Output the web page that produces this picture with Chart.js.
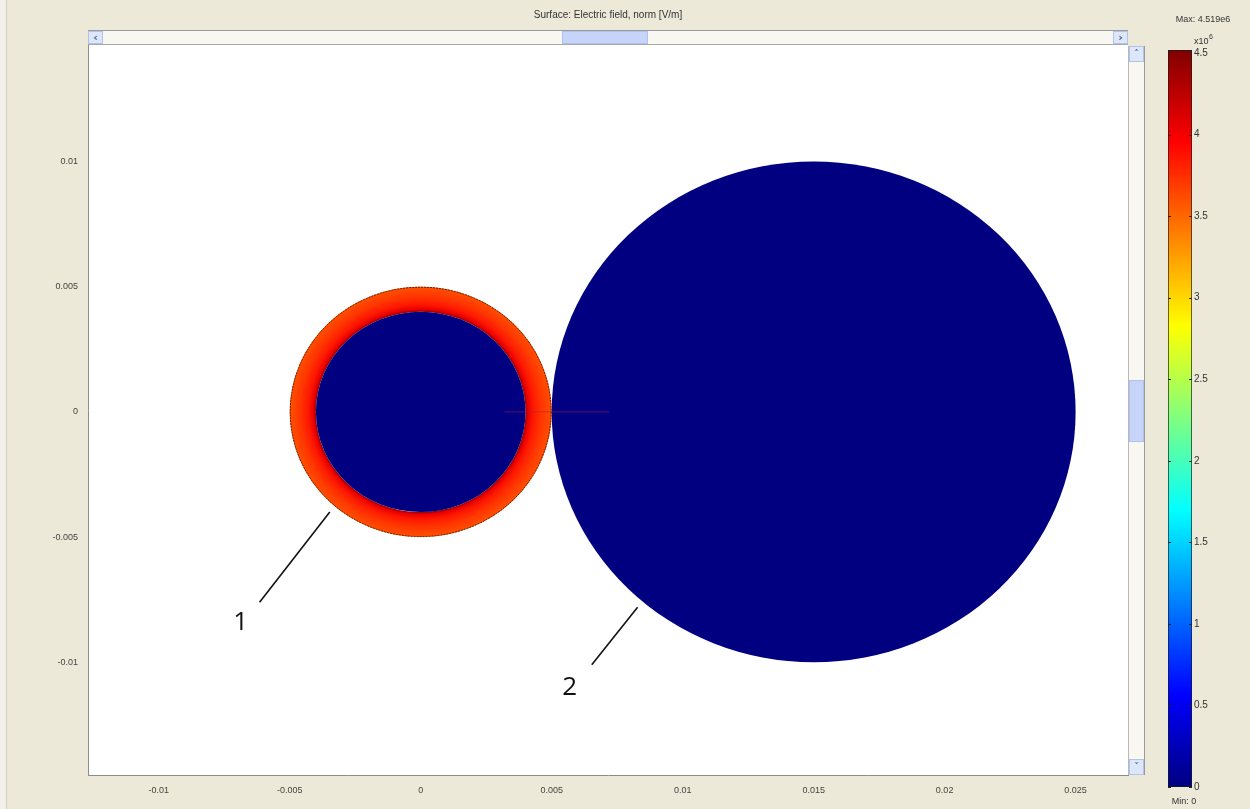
<!DOCTYPE html>
<html>
<head>
<meta charset="utf-8">
<title>Surface: Electric field, norm</title>
<script src="https://cdn.jsdelivr.net/npm/chart.js@4.4.1/dist/chart.umd.min.js"></script>
<style>
  html, body { margin: 0; padding: 0; background: #ece9d8; }
  #wrap { position: relative; width: 1250px; height: 809px; overflow: hidden; background: #ece9d8; }
  #band { position: absolute; left: 0; top: 0; width: 6px; height: 809px; background: #f2f0e8; border-right: 1px solid #d4d0c0; }
  #main { position: absolute; left: 0; top: 0; }
  #cbar { position: absolute; left: 1150px; top: 0; }
  .btn { position: absolute; background: #dde7fb; border: 1px solid #b3c3e6; box-sizing: border-box;
         color: #4a5f8c; font: bold 11px "DejaVu Sans", sans-serif; text-align: center; line-height: 12px; }
  #hscroll { position: absolute; left: 88px; top: 30px; width: 1040px; height: 15px; background: #f8f7f2;
             border-top: 1px solid #9a9a9a; border-bottom: 1px solid #a8a8a8; box-sizing: border-box; }
  #vscroll { position: absolute; left: 1128px; top: 46px; width: 17px; height: 729px; background: #f8f7f2;
             border-left: 1px solid #b8b8b8; border-right: 1px solid #9a9a9a; box-sizing: border-box; }
  .thumb { position: absolute; background: #c5d4f8; border: 1px solid #b0c2ec; box-sizing: border-box; }
</style>
</head>
<body>
<div id="wrap">
  <div id="band"></div>
  <canvas id="main" width="1150" height="809"></canvas>
  <canvas id="cbar" width="100" height="809"></canvas>
  <div id="hscroll">
    <div class="btn" style="left:0;top:0;width:15px;height:13px;">&#8249;</div>
    <div class="thumb" style="left:474px;top:0;width:86px;height:13px;"></div>
    <div class="btn" style="right:0;top:0;width:15px;height:13px;">&#8250;</div>
  </div>
  <div id="vscroll">
    <div class="btn" style="left:0;top:0;width:15px;height:16px;font-size:9px;">&#708;</div>
    <div class="thumb" style="left:0;top:334px;width:15px;height:62px;"></div>
    <div class="btn" style="left:0;bottom:0;width:15px;height:16px;font-size:9px;">&#709;</div>
  </div>
</div>
<script>
// axes
const xRange = [-0.0127, 0.0270];
const yRange = [-0.0145, 0.01465];
const xTicks = [-0.01, -0.005, 0, 0.005, 0.01, 0.015, 0.02, 0.025];
const yTicks = [-0.01, -0.005, 0, 0.005, 0.01];

// domains (m): 0 = shell of sphere 1, 1 = core of sphere 1, 2 = sphere 2
const domainX = [0, 0, 0.015];
const domainY = [0, 0, 0];
const domainRin = [0.004, 0, 0];
const domainRout = [0.005, 0.004, 0.01];
const domainField = [null, 0, 0];           // uniform field norm (x10^6 V/m), null = profile

// field norm across the shell (x10^6 V/m)
const shellR = [0.004, 0.0041, 0.0043, 0.0046, 0.005];
const shellE = [4.4, 4.05, 3.85, 3.72, 3.6];

// thin line through the gap
const probeX = [0.0032, 0.0072];
const probeY = [0, 0];

// callouts
const calloutText = ['1', '2'];
const calloutX0 = [-0.00615, 0.00653];
const calloutY0 = [-0.0076, -0.0101];
const calloutX1 = [-0.00347, 0.00828];
const calloutY1 = [-0.0040, -0.0078];
const calloutTx = [-0.00687, 0.00569];
const calloutTy = [-0.0084, -0.0110];

// colour bar
const cbMin = 0;
const cbMax = 4.519;
const cbTicks = [0, 0.5, 1, 1.5, 2, 2.5, 3, 3.5, 4, 4.5];

// jet colormap
const jetPos = [0, 0.125, 0.375, 0.625, 0.875, 1];
const jetRgb = [[0, 0, 128], [0, 0, 255], [0, 255, 255], [255, 255, 0], [255, 0, 0], [128, 0, 0]];
function jet(t) {
  t = Math.max(0, Math.min(1, t));
  for (let i = 1; i < jetPos.length; i++) {
    if (t <= jetPos[i]) {
      const f = (t - jetPos[i - 1]) / (jetPos[i] - jetPos[i - 1]);
      const a = jetRgb[i - 1], b = jetRgb[i];
      return `rgb(${Math.round(a[0] + (b[0] - a[0]) * f)},${Math.round(a[1] + (b[1] - a[1]) * f)},${Math.round(a[2] + (b[2] - a[2]) * f)})`;
    }
  }
  return 'rgb(128,0,0)';
}
const norm = v => (v - cbMin) / (cbMax - cbMin);

function fmt(v) {
  if (Math.abs(v) < 1e-12) return '0';
  return String(parseFloat(v.toFixed(4)));
}

const domainsPlugin = {
  id: 'domains',
  beforeDatasetsDraw(chart) {
    const { ctx, chartArea: a, scales: { x, y } } = chart;
    ctx.save();
    ctx.beginPath();
    ctx.rect(a.left, a.top, a.right - a.left, a.bottom - a.top);
    ctx.clip();
    for (let i = 0; i < domainX.length; i++) {
      const cx = x.getPixelForValue(domainX[i]);
      const cy = y.getPixelForValue(domainY[i]);
      const rxo = Math.abs(x.getPixelForValue(domainX[i] + domainRout[i]) - cx);
      const ryo = Math.abs(y.getPixelForValue(domainY[i] + domainRout[i]) - cy);
      const rxi = Math.abs(x.getPixelForValue(domainX[i] + domainRin[i]) - cx);
      ctx.save();
      ctx.translate(cx, cy);
      ctx.scale(1, ryo / rxo);
      let fill;
      if (domainField[i] !== null) {
        fill = jet(norm(domainField[i]));
      } else {
        fill = ctx.createRadialGradient(0, 0, rxi, 0, 0, rxo);
        const span = domainRout[i] - domainRin[i];
        shellR.forEach((r, k) => fill.addColorStop((r - domainRin[i]) / span, jet(norm(shellE[k]))));
      }
      ctx.beginPath();
      ctx.arc(0, 0, rxo, 0, Math.PI * 2);
      if (rxi > 0) ctx.arc(0, 0, rxi, 0, Math.PI * 2, true);
      ctx.fillStyle = fill;
      ctx.fill('evenodd');
      if (rxi > 0) {
        ctx.beginPath();
        ctx.arc(0, 0, rxo - 0.5, 0, Math.PI * 2);
        ctx.lineWidth = 1;
        ctx.strokeStyle = 'rgba(40,10,0,0.75)';
        ctx.setLineDash([2, 1]);
        ctx.stroke();
      }
      ctx.restore();
    }
    ctx.restore();
  },
  afterDatasetsDraw(chart) {
    const { ctx, scales: { x, y } } = chart;
    ctx.save();
    ctx.font = '26px "Open Sans", "Liberation Sans", sans-serif';
    ctx.fillStyle = '#111';
    ctx.textAlign = 'center';
    ctx.textBaseline = 'middle';
    calloutText.forEach((t, i) => {
      ctx.fillText(t, x.getPixelForValue(calloutTx[i]), y.getPixelForValue(calloutTy[i]));
    });
    ctx.restore();
  },
  afterDraw(chart) {
    const { ctx, chartArea: a } = chart;
    ctx.save();
    ctx.font = '10px "Liberation Sans", Arial, sans-serif';
    ctx.fillStyle = '#333';
    ctx.textAlign = 'center';
    ctx.textBaseline = 'middle';
    ctx.fillText('Surface: Electric field, norm [V/m]', (a.left + a.right) / 2, 15);
    ctx.restore();
  }
};

const datasets = [{
  label: 'probe',
  data: probeX.map((v, i) => ({ x: v, y: probeY[i] })),
  showLine: true,
  borderColor: 'rgba(170,30,70,0.55)',
  borderWidth: 1,
  pointRadius: 0
}];
calloutText.forEach((t, i) => {
  datasets.push({
    label: 'callout ' + t,
    data: [{ x: calloutX0[i], y: calloutY0[i] }, { x: calloutX1[i], y: calloutY1[i] }],
    showLine: true,
    borderColor: '#111',
    borderWidth: 1.6,
    pointRadius: 0
  });
});

const tickFont = { family: '"Liberation Sans", Arial, sans-serif', size: 9 };

new Chart(document.getElementById('main'), {
  type: 'scatter',
  data: { datasets },
  options: {
    responsive: false,
    animation: false,
    events: [],
    layout: { padding: { left: 0, right: 22, top: 45, bottom: 0 } },
    plugins: { legend: { display: false }, tooltip: { enabled: false } },
    scales: {
      x: {
        type: 'linear', min: xRange[0], max: xRange[1],
        afterBuildTicks: s => { s.ticks = xTicks.map(v => ({ value: v })); },
        afterFit: s => { s.height = 34; },
        grid: { display: false, drawTicks: false },
        border: { display: true, color: '#8c8c8c', width: 1 },
        ticks: { font: tickFont, color: '#444', padding: 10, maxRotation: 0, callback: v => fmt(v) }
      },
      y: {
        type: 'linear', min: yRange[0], max: yRange[1],
        afterBuildTicks: s => { s.ticks = yTicks.map(v => ({ value: v })); },
        afterFit: s => { s.width = 88; },
        grid: { display: false, drawTicks: false },
        border: { display: true, color: '#8c8c8c', width: 1 },
        ticks: { font: tickFont, color: '#444', padding: 10, callback: v => fmt(v) }
      }
    }
  },
  plugins: [domainsPlugin, {
    id: 'white',
    beforeDraw(chart) {
      const { ctx, chartArea: a } = chart;
      ctx.save();
      ctx.fillStyle = '#ffffff';
      ctx.fillRect(a.left, a.top, a.right - a.left, a.bottom - a.top);
      ctx.restore();
    }
  }]
});

// colour bar
const cbPlugin = {
  id: 'cbDecor',
  afterDatasetsDraw(chart) {
    const { ctx, chartArea: a, scales: { y } } = chart;
    ctx.save();
    ctx.strokeStyle = '#222';
    ctx.lineWidth = 1;
    cbTicks.forEach(v => {
      const py = Math.round(y.getPixelForValue(v)) + 0.5;
      ctx.beginPath();
      ctx.moveTo(a.left, py); ctx.lineTo(a.left + 3, py);
      ctx.moveTo(a.right - 3, py); ctx.lineTo(a.right, py);
      ctx.stroke();
    });
    ctx.fillStyle = '#333';
    ctx.textBaseline = 'middle';
    ctx.font = '9px "Liberation Sans", Arial, sans-serif';
    ctx.textAlign = 'center';
    ctx.fillText('Max: ' + cbMax + 'e6', 53, 20);
    ctx.fillText('Min: ' + cbMin, 34, 802);
    ctx.textAlign = 'left';
    ctx.fillText('x10', 44, 42);
    ctx.font = '7px "Liberation Sans", Arial, sans-serif';
    ctx.fillText('6', 59, 37);
    ctx.restore();
  }
};

new Chart(document.getElementById('cbar'), {
  type: 'bar',
  data: {
    labels: ['|E|'],
    datasets: [{
      data: [[cbMin, cbMax]],
      backgroundColor: (c) => {
        const a = c.chart.chartArea;
        if (!a) return '#000080';
        const g = c.chart.ctx.createLinearGradient(0, a.bottom, 0, a.top);
        jetPos.forEach((p, i) => g.addColorStop(p, jet(p)));
        return g;
      },
      borderColor: '#1a1a1a',
      borderWidth: 1,
      borderSkipped: false,
      barPercentage: 1,
      categoryPercentage: 1
    }]
  },
  options: {
    responsive: false,
    animation: false,
    events: [],
    layout: { padding: { left: 18, right: 0, top: 50, bottom: 22 } },
    plugins: { legend: { display: false }, tooltip: { enabled: false } },
    scales: {
      x: { display: false },
      y: {
        position: 'right', min: cbMin, max: cbMax,
        afterBuildTicks: s => { s.ticks = cbTicks.map(v => ({ value: v })); },
        afterFit: s => { s.width = 58; },
        grid: { display: false, drawTicks: false },
        border: { display: false },
        ticks: { font: { family: '"Liberation Sans", Arial, sans-serif', size: 10 }, color: '#333', padding: 2, callback: v => String(v) }
      }
    }
  },
  plugins: [cbPlugin]
});
</script>
</body>
</html>
